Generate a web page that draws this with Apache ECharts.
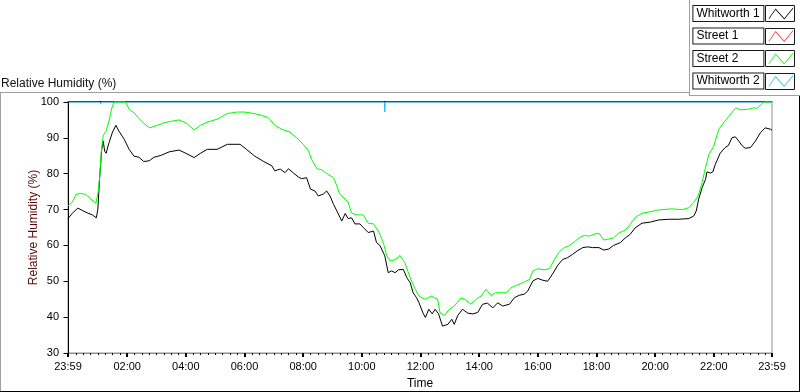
<!DOCTYPE html>
<html>
<head>
<meta charset="utf-8">
<title>Relative Humidity</title>
<script src="https://cdn.jsdelivr.net/npm/echarts@6.0.0/dist/echarts.min.js"></script>
<style>
  html, body { margin: 0; padding: 0; background: #fff; }
  #chart { width: 800px; height: 392px; }
</style>
</head>
<body>
<div id="chart"></div>
<script>
// times are minutes after midnight, -1 = 23:59 of the day before
var seriesNames = ['Whitworth 1', 'Street 1', 'Street 2', 'Whitworth 2'];
var seriesColors = ['#000000', '#ff3030', '#00ff00', '#30b4f4'];

var whitworth1 = [[-1,67.5],[1,67.7],[8,69],[19,70.4],[28,69.8],[38,69.1],[49,68.5],[57,67.7],[60,70.1],[64,79.4],[68,86.8],[71,89.1],[74,86.3],[77,85.7],[83,88.7],[90,91.6],[97,93.5],[103,91.9],[114,89.6],[124,86.8],[134,84.9],[144,84.6],[154,83.4],[165,83.6],[175,84.6],[189,85.1],[206,86.1],[226,86.6],[240,85.7],[257,84.5],[270,85.7],[284,86.8],[304,86.8],[325,88.2],[345,88.2],[351,88.2],[364,86.8],[381,84.9],[398,83.5],[416,82.2],[422,80.8],[433,81.3],[443,80.3],[450,81.4],[460,80.2],[470,79.1],[477,78.6],[487,78.9],[495,75.7],[504,75.2],[511,73.8],[521,74.3],[528,75.2],[535,73.8],[542,71.5],[549,69.6],[559,66.8],[566,68.9],[572,67.5],[579,67.7],[586,66],[596,66],[603,65],[613,63.6],[624,64],[630,60.8],[637,60],[647,57.1],[654,52.4],[661,52.9],[668,52.4],[675,53.2],[685,53.3],[692,51],[699,49.6],[705,46.8],[712,45.4],[717,44],[725,41.2],[730,39.9],[737,42.2],[744,40.9],[750,42.2],[757,40.9],[765,37.5],[776,38],[784,39.4],[789,38],[796,40.4],[806,42.2],[817,41.1],[827,40.9],[837,41.3],[847,43.6],[857,43.9],[868,42.6],[878,44],[888,43.1],[902,43.6],[912,45.4],[922,46.1],[932,46.4],[939,47.2],[950,50.1],[960,50.8],[970,50.3],[980,50],[990,52],[1001,54.5],[1011,56.1],[1021,56.6],[1031,57.5],[1042,58.6],[1052,59.4],[1062,59.6],[1072,59.4],[1085,59.4],[1095,58.7],[1105,59],[1115,60],[1129,60.8],[1139,62.1],[1149,63.1],[1159,64.9],[1173,66.2],[1190,66.5],[1207,67.1],[1228,67.3],[1248,67.3],[1269,67.5],[1279,68.2],[1284,69.6],[1289,72.9],[1296,76.1],[1303,78.4],[1306,80.5],[1313,80.2],[1318,80.5],[1323,82.6],[1333,85.7],[1343,87.3],[1350,87.9],[1357,90],[1364,90.3],[1371,89.1],[1378,87.8],[1384,87.1],[1395,87.3],[1405,89.1],[1415,91.4],[1425,92.8],[1436,92.4],[1439,92.1]];

var street1 = [];

var street2 = [[-1,71],[1,71.2],[8,72.1],[15,74.2],[25,74.5],[35,74.2],[45,73.1],[56,71.7],[59,72],[61,75.2],[64,79.4],[67,85.9],[71,90.7],[77,91.9],[83,94.7],[88,98],[93,100],[117,100],[124,98],[134,97],[144,95.4],[154,94.1],[165,92.8],[171,93],[182,93.5],[195,94.2],[209,94.6],[226,95],[240,94.2],[257,92.2],[270,93.5],[284,94.4],[304,95.2],[325,96.8],[345,97.2],[359,97.2],[371,97],[392,96.4],[409,95.6],[422,93.5],[436,92.4],[453,91.6],[467,90],[480,88.2],[491,86.3],[497,84],[508,81.4],[518,81.1],[531,79.8],[542,78.9],[549,76.6],[555,74.3],[566,72.9],[572,72],[579,69],[590,68.5],[603,68.5],[613,66.2],[624,66],[634,64],[644,60.8],[651,57.1],[658,55.7],[668,56],[678,57.2],[688,55.2],[699,51],[709,47.8],[717,45.9],[725,45.2],[731,45],[742,45.9],[748,45.4],[755,45],[760,41.2],[769,40.5],[779,42.2],[789,43.1],[803,45.4],[813,44.8],[823,43.6],[834,45],[844,45.9],[854,47.8],[864,46.1],[874,46.8],[885,46.8],[895,46.8],[905,48.2],[915,48.8],[929,49.6],[943,50.5],[950,52.9],[960,53.5],[973,53.2],[984,53.5],[994,56.1],[1004,58.2],[1014,59.4],[1024,59.9],[1035,61],[1045,62.2],[1055,62.8],[1065,62.6],[1077,63.2],[1085,63.4],[1095,61.5],[1105,61.8],[1115,62.1],[1125,63.4],[1139,64.3],[1149,65.9],[1159,67.7],[1173,69],[1187,69.3],[1207,69.9],[1234,70.2],[1255,70],[1269,70.5],[1279,72],[1288,73.8],[1296,77.5],[1303,81.7],[1310,85.4],[1320,87.7],[1330,92.4],[1340,94.2],[1350,95.9],[1365,98.4],[1374,97.8],[1391,98],[1402,98.4],[1408,98.2],[1415,99],[1422,100],[1439,100]];

var whitworth2 = [[-1,100],[64,100],[66,99.4],[67,100],[646,100],[647,97.2],[648,100],[1439,100]];

var majorTicks = [-1, 120, 240, 360, 480, 600, 720, 840, 960, 1080, 1200, 1320, 1439];
var minorTicks = [];
for (var m = 15; m < 1439; m += 15) minorTicks.push(m);

var font = 'Liberation Sans';

function clockLabel(v) {
    var t = (Math.round(v) + 1440) % 1440;
    var h = Math.floor(t / 60), mm = t % 60;
    return (h < 10 ? '0' : '') + h + ':' + (mm < 10 ? '0' : '') + mm;
}

var zig = 'path://M0,11 L7,1 L16,11 L25,0 L25,1.4 L16,12.4 L7,2.4 L0,12.4 Z';

// legend row geometry (kept in sync with the legend settings below)
var legTop = 5, legPitch = 22.5, legBoxH = 17;

var chart = echarts.init(document.getElementById('chart'));

var lineSeries = function (name, data) {
    var i = seriesNames.indexOf(name);
    return {
        name: name,
        type: 'line',
        data: data,
        showSymbol: false,
        symbol: 'none',
        clip: false,
        color: seriesColors[i],
        lineStyle: { width: 1, color: seriesColors[i] }
    };
};

var boxes = seriesNames.map(function (n, i) {
    return {
        type: 'rect',
        shape: { x: 765.5, y: Math.round(legTop + i * legPitch) + 0.5, width: 29, height: legBoxH - 1 },
        style: { fill: '#fff', stroke: '#1a1a1a', lineWidth: 1 }
    };
});

var frame = [
    { type: 'line', shape: { x1: 0, y1: 92.5, x2: 690, y2: 92.5 }, style: { stroke: '#a0a0a0' } },
    { type: 'line', shape: { x1: 0.5, y1: 92, x2: 0.5, y2: 392 }, style: { stroke: '#a0a0a0' } },
    { type: 'line', shape: { x1: 0, y1: 391.5, x2: 800, y2: 391.5 }, style: { stroke: '#000' } },
    { type: 'line', shape: { x1: 799.5, y1: 96, x2: 799.5, y2: 392 }, style: { stroke: '#000' } },
    { type: 'line', shape: { x1: 689.5, y1: 0, x2: 689.5, y2: 96 }, style: { stroke: '#a0a0a0' } },
    { type: 'line', shape: { x1: 689, y1: 95.5, x2: 800, y2: 95.5 }, style: { stroke: '#a0a0a0' } }
];

option = {
    animation: false,
    backgroundColor: '#fff',
    textStyle: { fontFamily: font },
    title: {
        text: 'Relative Humidity (%)',
        left: 1,
        top: 78,
        padding: 0,
        textStyle: { fontFamily: font, fontSize: 12, fontWeight: 'normal', color: '#111' }
    },
    legend: {
        data: seriesNames,
        orient: 'vertical',
        right: 7,
        top: legTop,
        padding: 0,
        itemGap: legPitch - legBoxH,
        align: 'right',
        itemWidth: 25,
        itemHeight: 12,
        icon: zig,
        itemStyle: { borderWidth: 0 },
        selectedMode: false,
        formatter: '{a|{name}}',
        textStyle: {
            color: '#000',
            fontFamily: font,
            fontSize: 12,
            backgroundColor: '#fff',
            borderColor: '#1a1a1a',
            borderWidth: 1,
            padding: [1, 3, 1, 3],
            rich: { a: { width: 64, align: 'left', fontFamily: font, fontSize: 12, lineHeight: 13, color: '#000' } }
        }
    },
    graphic: frame.concat(boxes),
    grid: {
        left: 68, right: 28, top: 102, bottom: 39,
        outerBoundsMode: 'none',
        containLabel: false,
        show: true,
        backgroundColor: '#fff',
        borderColor: '#909090',
        borderWidth: 1
    },
    xAxis: [{
        type: 'value',
        min: -1, max: 1439,
        position: 'bottom',
        name: 'Time',
        nameLocation: 'middle',
        nameGap: 25,
        nameMoveOverlap: false,
        nameTextStyle: { fontFamily: font, fontSize: 12, color: '#000' },
        axisLine: { show: true, lineStyle: { color: '#909090', width: 1 } },
        axisTick: { show: true, customValues: majorTicks, length: 4, lineStyle: { color: '#000', width: 2 } },
        axisLabel: { customValues: majorTicks, formatter: clockLabel, fontFamily: font, fontSize: 11, color: '#000', margin: 8 },
        splitLine: { show: false }
    }, {
        type: 'value',
        min: -1, max: 1439,
        position: 'bottom',
        axisLine: { show: false },
        axisTick: { show: true, customValues: minorTicks, length: 2, lineStyle: { color: '#000', width: 1 } },
        axisLabel: { show: false },
        splitLine: { show: false }
    }, {
        type: 'value',
        min: -1, max: 1439,
        position: 'top',
        offset: 1,
        axisLine: { show: true, lineStyle: { color: '#000', width: 1 } },
        axisTick: { show: false },
        axisLabel: { show: false },
        splitLine: { show: false }
    }],
    yAxis: {
        type: 'value',
        min: 30, max: 100, interval: 10,
        name: 'Relative Humidity (%)',
        nameLocation: 'middle',
        nameGap: 28,
        nameMoveOverlap: false,
        nameTextStyle: { fontFamily: font, fontSize: 12, color: '#5a0a0a' },
        axisLine: { show: true, lineStyle: { color: '#000', width: 1 } },
        axisTick: { show: true, length: 5, lineStyle: { color: '#000' } },
        axisLabel: { fontFamily: font, fontSize: 11, color: '#000', margin: 9 },
        splitLine: { show: false }
    },
    series: [
        lineSeries('Whitworth 2', whitworth2),
        lineSeries('Whitworth 1', whitworth1),
        lineSeries('Street 1', street1),
        lineSeries('Street 2', street2)
    ]
};

chart.setOption(option);
</script>
</body>
</html>
